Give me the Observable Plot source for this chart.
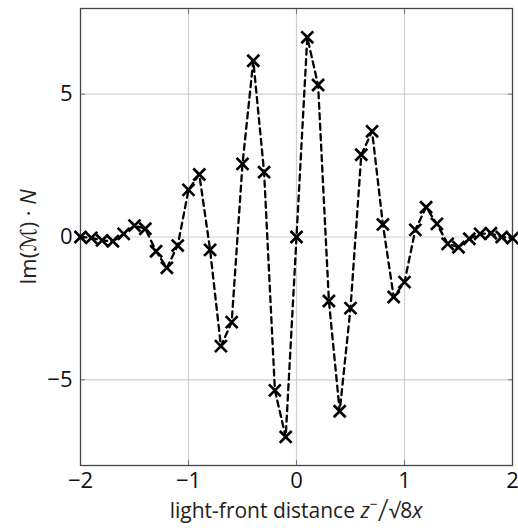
<!DOCTYPE html>
<html>
<head>
<meta charset="utf-8">
<script src="https://cdn.jsdelivr.net/npm/d3@7"></script>
<script src="https://cdn.jsdelivr.net/npm/@observablehq/plot@0.6"></script>
<style>
body { margin: 0; background: #fff; }
</style>
</head>
<body>
<div id="chart"></div>
<script>
const xs = [-2.0,-1.9,-1.8,-1.7,-1.6,-1.5,-1.4,-1.3,-1.2,-1.1,-1.0,-0.9,-0.8,-0.7,-0.6,-0.5,-0.4,-0.3,-0.2,-0.1,0.0,0.1,0.2,0.3,0.4,0.5,0.6,0.7,0.8,0.9,1.0,1.1,1.2,1.3,1.4,1.5,1.6,1.7,1.8,1.9,2.0];
const ys = [0.0,-0.03,-0.12,-0.15,0.11,0.40,0.29,-0.50,-1.08,-0.30,1.65,2.19,-0.45,-3.82,-2.98,2.56,6.17,2.27,-5.37,-7.0,0.0,6.99,5.32,-2.24,-6.10,-2.49,2.88,3.70,0.44,-2.10,-1.58,0.25,1.04,0.46,-0.24,-0.36,-0.06,0.11,0.13,0.0,-0.04];
const xTicks = [-2,-1,0,1,2];
const yTicks = [-5,0,5];
const xLabel = "light-front distance";
const yLabel = "Im";

const data = xs.map((x,i)=>({x, y: ys[i]}));
const fmt = d => d < 0 ? "\u2212" + Math.abs(d) : String(d);
const FONT = "'Open Sans', 'DejaVu Sans', sans-serif";

const chart = Plot.plot({
  width: 518, height: 530,
  marginLeft: 80, marginRight: 6, marginTop: 8, marginBottom: 65,
  style: {fontFamily: FONT, background: "#fff"},
  x: {domain: [-2, 2]},
  y: {domain: [-8, 8]},
  marks: [
    Plot.gridX([-1,0,1], {stroke: "#cfcfcf", strokeOpacity: 1, strokeWidth: 1.2}),
    Plot.gridY(yTicks, {stroke: "#cfcfcf", strokeOpacity: 1, strokeWidth: 1.2}),
    Plot.axisX({anchor: "bottom", ticks: xTicks, tickSize: -5, tickFormat: () => "", stroke: "#777", label: null}),
    Plot.axisX({anchor: "top", ticks: xTicks, tickSize: -5, tickFormat: () => "", stroke: "#777", label: null}),
    Plot.axisY({anchor: "left", ticks: yTicks, tickSize: -5, tickFormat: () => "", stroke: "#777", label: null}),
    Plot.axisY({anchor: "right", ticks: yTicks, tickSize: -5, tickFormat: () => "", stroke: "#777", label: null}),
    Plot.axisX({anchor: "bottom", ticks: xTicks, tickSize: 0, tickPadding: 7, tickFormat: fmt, fontSize: 22, fill: "#111", label: null}),
    Plot.axisY({anchor: "left", ticks: yTicks, tickSize: 0, tickPadding: 8, tickFormat: fmt, fontSize: 22, fill: "#111", label: null}),
    Plot.frame({stroke: "#444", strokeWidth: 1.3}),
    Plot.line(data, {x: "x", y: "y", stroke: "black", strokeWidth: 2.3, strokeDasharray: "6,4.5"}),
    Plot.dot(data, {x: "x", y: "y", symbol: "times", r: 5.5, stroke: "black", strokeWidth: 2.7})
  ]
});

const svg = d3.select(chart);
// x label
const xl = svg.append("text")
  .attr("x", 296).attr("y", 518)
  .attr("text-anchor", "middle")
  .attr("font-family", FONT).attr("font-size", 21).attr("fill", "#222");
xl.append("tspan").text(xLabel + " ");
xl.append("tspan").attr("font-style", "italic").text("z");
xl.append("tspan").attr("dy", -9).attr("font-size", 14).text("\u2212");
xl.append("tspan").attr("dy", 12).attr("font-size", 32).attr("font-weight", 300).text("/");
xl.append("tspan").attr("dy", -3).text("\u221A8");
xl.append("tspan").attr("font-style", "italic").text("x");
// y label
const yl = svg.append("text")
  .attr("transform", "translate(36,237) rotate(-90)")
  .attr("text-anchor", "middle")
  .attr("font-family", FONT).attr("font-size", 22).attr("fill", "#222");
yl.append("tspan").text(yLabel + "(");
yl.append("tspan").attr("font-family", "'DejaVu Sans', sans-serif").text("\u2133");
yl.append("tspan").text(") \u00B7 ");
yl.append("tspan").attr("font-style", "italic").text("N");

document.getElementById("chart").appendChild(chart);
</script>
</body>
</html>
